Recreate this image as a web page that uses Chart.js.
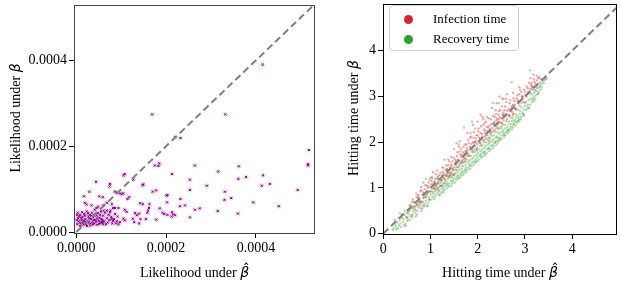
<!DOCTYPE html>
<html>
<head>
<meta charset="utf-8">
<script src="https://cdn.jsdelivr.net/npm/chart.js@4.4.1/dist/chart.umd.min.js"></script>
<style>
  html, body { margin: 0; padding: 0; background: #fff; }
  body { width: 621px; height: 288px; position: relative; overflow: hidden; }
  .panel { position: absolute; top: 0; height: 288px; }
  #leftBox { left: 0; width: 320px; }
  #rightBox { left: 320px; width: 301px; }
</style>
</head>
<body>
<div class="panel" id="leftBox"><canvas id="leftChart"></canvas></div>
<div class="panel" id="rightBox"><canvas id="rightChart"></canvas></div>
<script>
// ---- left panel: likelihoods, in units of 1e-4 ----
const likeScale = 1e-4;
const likelihoodPts = [
  [4.15,3.90],[1.69,2.74],[3.32,2.74],[2.20,2.21],[2.32,2.19],[5.18,1.91],[5.16,1.55],[5.16,1.58],
  [1.85,1.60],[1.75,1.55],[1.83,1.54],[2.64,1.55],[3.62,1.53],[3.16,1.41],[2.13,1.35],[4.16,1.32],
  [3.78,1.28],[1.05,1.32],[1.08,1.35],[1.27,1.22],[2.53,1.22],[3.61,1.24],[0.44,1.17],[0.75,1.12],
  [0.74,1.06],[1.48,1.09],[1.49,1.11],[4.31,1.12],[4.13,1.08],[2.91,1.08],[4.93,0.98],[2.53,0.98],
  [1.70,0.94],[1.78,0.97],[3.31,0.94],[2.03,0.86],[2.01,0.85],[3.45,0.79],[3.30,0.75],[2.32,0.77],
  [0.86,0.94],[0.90,0.92],[1.01,0.88],[0.97,0.90],[1.05,0.90],[1.18,0.81],[1.14,0.77],[3.94,0.69],
  [4.51,0.60],[2.02,0.69],[2.31,0.60],[2.42,0.62],[2.64,0.52],[2.75,0.55],[3.15,0.49],[3.60,0.43],
  [1.92,0.45],[2.13,0.46],[2.12,0.36],[2.20,0.39],[2.53,0.34],[1.86,0.55],[0.17,0.83],[0.29,0.94],
  [0.51,0.83],[0.59,0.81],[0.68,0.68],[0.79,0.65],[0.19,0.68],[0.23,0.64],[0.34,0.62],[0.45,0.56],
  [0.49,0.59],[0.60,0.62],[0.68,0.50],[0.75,0.46],[0.86,0.56],[0.94,0.56],[1.08,0.52],[1.12,0.47],
  [1.31,0.44],[1.35,0.39],[1.40,0.43],[1.48,0.65],[1.42,0.67],[1.63,0.65],[1.62,0.56],[1.60,0.50],
  [1.58,0.45],[1.43,0.30],[1.40,0.20],[1.55,0.30],[1.78,0.29],[1.96,0.42],[2.03,0.40],[2.16,0.41],
  [1.05,0.31],[1.08,0.27],[0.97,0.23],[1.26,0.31],[1.29,0.23],[0.79,0.31],[0.82,0.26],[0.88,0.20],
  [0.94,0.18],[0.57,0.23],[0.60,0.18],
  [0.02,0.18],[0.05,0.25],[0.04,0.32],[0.08,0.40],[0.03,0.45],[0.10,0.20],[0.12,0.28],[0.14,0.35],
  [0.15,0.22],[0.18,0.42],[0.20,0.30],[0.22,0.18],[0.23,0.48],[0.25,0.26],[0.27,0.36],[0.28,0.22],
  [0.30,0.40],[0.31,0.15],[0.33,0.30],[0.35,0.45],[0.36,0.24],[0.38,0.34],[0.40,0.20],[0.41,0.52],
  [0.43,0.28],[0.45,0.38],[0.46,0.17],[0.48,0.44],[0.50,0.26],[0.52,0.33],[0.54,0.21],[0.55,0.48],
  [0.58,0.28],[0.60,0.38],[0.62,0.25],[0.64,0.45],[0.66,0.18],[0.68,0.32],[0.70,0.22],[0.72,0.40],
  [0.06,0.36],[0.09,0.14],[0.13,0.46],[0.17,0.26],[0.19,0.38],[0.24,0.14],[0.26,0.44],[0.29,0.32],
  [0.32,0.20],[0.34,0.38],[0.37,0.18],[0.39,0.28],[0.42,0.42],[0.44,0.24],[0.47,0.32],[0.51,0.19],
  [0.53,0.40],[0.56,0.30],[0.59,0.23],[0.61,0.50],[0.01,0.28],[0.02,0.40],[0.07,0.22],[0.11,0.33],
  [0.16,0.17],[0.21,0.24],[0.74,0.28],[0.78,0.35],[0.80,0.20],[0.84,0.30],[0.86,0.42],[0.90,0.25],
  [0.92,0.36],[0.76,0.50],[0.82,0.56]
];
const likeTicks = [0, 0.0002, 0.0004];
const likeRangeX = [-0.0000051, 0.0005316];
const likeRangeY = [-0.0000023, 0.000529];
const likeDiag = [0, 0.00056];

// ---- right panel: hitting times ----
const infectionPts = [
  [0.47,0.17],[0.52,0.48],[0.58,0.62],[0.60,0.40],[0.63,0.75],[0.66,0.55],[0.70,0.88],[0.72,0.64],
  [0.75,0.78],[0.78,0.93],[0.80,0.70],[0.83,0.85],[0.85,0.62],[0.88,0.98],[0.90,0.80],[0.92,1.05],
  [0.95,0.90],[0.97,0.75],[1.00,1.02],[1.02,1.15],[1.04,0.92],[1.06,1.08],[1.08,0.98],[1.10,1.20],
  [1.12,1.05],[1.15,1.12],[1.17,0.96],[1.19,1.28],[1.22,1.18],[1.24,1.05],[1.26,1.35],[1.28,1.22],
  [1.30,1.10],[1.32,1.40],[1.35,1.30],[1.37,1.50],[1.39,1.25],[1.41,1.45],[1.43,1.35],[1.46,1.58],
  [1.48,1.42],[1.50,1.30],[1.52,1.62],[1.54,1.50],[1.56,1.70],[1.58,1.45],[1.60,1.60],[1.62,1.80],
  [1.64,1.55],[1.66,1.72],[1.68,1.62],[1.70,1.90],[1.72,1.75],[1.74,1.65],[1.76,1.95],[1.78,1.82],
  [1.80,2.05],[1.82,1.72],[1.84,1.90],[1.86,2.12],[1.88,1.85],[1.90,2.00],[1.92,2.22],[1.94,1.92],
  [1.96,2.08],[1.98,1.88],[2.00,2.15],[2.02,2.30],[2.04,2.00],[2.06,2.20],[2.08,1.95],[2.10,2.12],
  [2.12,2.38],[2.14,2.05],[2.16,2.25],[2.18,2.45],[2.20,2.15],[2.22,2.32],[2.24,2.10],[2.26,2.28],
  [2.28,2.50],[2.30,2.22],[2.32,2.40],[2.34,2.25],[2.36,2.55],[2.38,2.35],[2.40,2.48],[2.42,2.30],
  [2.44,2.60],[2.46,2.45],[2.48,2.70],[2.50,2.52],[2.52,2.42],[2.54,2.65],[2.56,2.55],[2.58,2.78],
  [2.60,2.62],[2.62,2.50],[2.65,2.72],[2.68,2.85],[2.70,2.68],[2.72,2.78],[2.75,2.62],[2.78,2.90],
  [2.80,2.75],[2.83,2.95],[2.86,2.85],[2.88,3.05],[2.91,2.92],[2.94,3.00],[2.97,2.88],[3.00,3.10],
  [3.03,3.00],[3.06,3.18],[3.10,3.08],[3.13,3.25],[3.17,3.15],[3.20,3.32],[3.24,3.22],[3.28,3.40],
  [3.32,3.30],
  [1.25,1.28],[1.45,1.48],[1.65,1.68],[1.85,1.88],[2.05,2.08],[2.25,2.22],[2.45,2.50],[2.65,2.60],
  [2.85,2.90],[3.05,3.05],[0.95,1.00],[0.75,0.70],[1.55,1.55],[1.75,1.80],[1.95,2.00],[2.15,2.12],
  [2.35,2.38],[2.55,2.58],[2.75,2.80],[2.95,2.95],[3.15,3.18],[1.15,1.20],[1.35,1.38],[0.85,0.90],
  [0.65,0.68],
  [2.46,3.00],[2.52,2.95],[2.40,2.85],[2.10,2.55],[1.90,2.38],[1.55,1.98],[1.30,1.62],[1.05,1.35],
  [2.30,2.75],[2.62,3.05],[2.75,3.08],[3.12,3.40],[3.25,3.45],[0.85,1.12],[1.62,2.02],[1.78,2.20],
  [2.00,2.45],
  [0.55,0.52],[0.61,0.70],[0.68,0.60],[0.71,0.79],[0.77,0.66],[0.81,0.95],[0.86,0.79],[0.89,1.06],
  [0.93,0.88],[0.96,1.12],[0.99,0.93],[1.01,1.08],[1.03,1.24],[1.07,1.01],[1.09,1.14],[1.11,1.30],
  [1.13,0.99],[1.16,1.25],[1.18,1.10],[1.21,1.33],[1.23,1.16],[1.27,1.44],[1.29,1.31],[1.31,1.18],
  [1.33,1.49],[1.34,1.27],[1.36,1.40],[1.38,1.33],[1.40,1.58],[1.42,1.29],[1.44,1.52],[1.47,1.40],
  [1.49,1.66],[1.51,1.45],[1.53,1.57],[1.55,1.39],[1.57,1.78],[1.59,1.62],[1.61,1.52],[1.63,1.73],
  [1.65,1.86],[1.67,1.59],[1.69,1.78],[1.71,1.66],[1.73,1.95],[1.75,1.72],[1.77,1.87],[1.79,1.70],
  [1.81,1.98],[1.83,1.83],[1.85,2.20],[1.87,1.96],[1.89,1.80],[1.91,2.10],[1.93,1.99],[1.95,2.30],
  [1.97,2.15],[1.99,1.96],[2.01,2.24],[2.03,2.10],[2.05,1.98],[2.07,2.35],[2.09,2.18],[2.11,2.04],
  [2.13,2.28],[2.15,2.42],[2.17,2.16],[2.19,2.34],[2.21,2.24],[2.23,2.52],[2.25,2.36],[2.27,2.18],
  [2.29,2.40],[2.31,2.31],[2.33,2.58],[2.35,2.44],[2.37,2.28],[2.39,2.62],[2.41,2.52],[2.43,2.40],
  [2.45,2.68],[2.47,2.55],[2.49,2.42],[2.51,2.78],[2.53,2.60],[2.55,2.48],[2.57,2.70],[2.59,2.58],
  [2.61,2.88],[2.63,2.68],[2.66,2.58],[2.69,2.92],[2.71,2.74],[2.73,2.66],[2.76,2.96],[2.79,2.82],
  [2.81,2.72],[2.84,3.02],[2.87,2.90],[2.89,2.80],[2.92,3.10],[2.95,2.98],[2.98,3.15],[3.01,3.02],
  [3.04,3.22],[3.07,3.10],[3.09,3.30],[3.11,3.16],[3.14,3.30],[3.16,3.22],[3.19,3.38],[3.22,3.28],
  [3.26,3.35],[3.30,3.42],[3.34,3.38],
  [0.50,0.36],[0.73,0.83],[0.98,1.18],[1.14,1.38],[1.22,1.04],[1.38,1.62],[1.47,1.28],[1.60,1.90],
  [1.73,1.58],[1.84,2.10],[1.98,1.82],[2.12,2.50],[2.24,2.02],[2.38,2.70],[2.50,2.34],[2.60,2.95],
  [2.74,2.58],[2.88,3.20],[3.00,2.86],[3.18,3.48],[0.80,1.02],[1.44,1.68],[2.06,2.60],[2.32,2.86]
];
const recoveryPts = [
  [0.20,0.08],[0.22,0.12],[0.25,0.20],[0.28,0.10],[0.30,0.25],[0.33,0.18],[0.35,0.30],[0.38,0.15],
  [0.40,0.35],[0.42,0.26],[0.45,0.40],[0.47,0.22],[0.50,0.45],[0.52,0.32],[0.55,0.50],[0.57,0.38],
  [0.60,0.55],[0.62,0.42],[0.65,0.60],[0.67,0.46],[0.70,0.65],[0.72,0.50],[0.75,0.58],[0.77,0.72],
  [0.80,0.55],[0.82,0.68],[0.85,0.78],[0.87,0.60],[0.90,0.72],[0.92,0.85],[0.95,0.68],[0.97,0.80],
  [1.00,0.92],[1.02,0.75],[1.04,1.20],[1.06,0.88],[1.08,1.00],[1.10,0.82],[1.12,0.95],[1.14,1.08],
  [1.16,0.90],[1.18,1.02],[1.20,0.86],[1.22,1.12],[1.24,0.98],[1.26,1.08],[1.28,0.94],[1.30,1.20],
  [1.32,1.05],[1.34,1.15],[1.36,1.00],[1.38,1.25],[1.40,1.10],[1.42,1.22],[1.44,1.05],[1.46,1.32],
  [1.48,1.18],[1.50,1.28],[1.52,1.12],[1.54,1.40],[1.56,1.25],[1.58,1.35],[1.60,1.20],[1.62,1.48],
  [1.64,1.30],[1.66,1.42],[1.68,1.28],[1.70,1.55],[1.72,1.38],[1.74,1.50],[1.76,1.35],[1.78,1.62],
  [1.80,1.45],[1.82,1.58],[1.84,1.42],[1.86,1.70],[1.88,1.55],[1.90,1.65],[1.92,1.50],[1.94,1.78],
  [1.96,1.62],[1.98,1.72],[2.00,1.58],[2.02,1.85],[2.04,1.70],[2.06,1.80],[2.08,1.66],[2.10,1.92],
  [2.12,1.78],[2.14,1.88],[2.16,1.72],[2.18,2.00],[2.20,1.85],[2.22,1.95],[2.24,1.80],[2.26,2.08],
  [2.28,1.92],[2.30,2.02],[2.32,1.88],[2.34,2.15],[2.36,2.00],[2.38,2.10],[2.40,1.95],[2.42,2.22],
  [2.44,2.08],[2.46,2.18],[2.48,2.05],[2.50,2.30],[2.52,2.15],[2.54,2.25],[2.56,2.12],[2.58,2.38],
  [2.60,2.22],[2.62,2.32],[2.64,2.20],[2.66,2.45],[2.68,2.30],[2.70,2.40],[2.72,2.28],[2.74,2.52],
  [2.76,2.38],[2.78,2.48],[2.80,2.36],[2.82,2.60],[2.84,2.46],[2.86,2.56],[2.88,2.45],[2.90,2.68],
  [2.92,2.55],[2.95,2.65],[2.98,2.58],[3.00,2.80],[3.03,2.70],[3.06,2.82],[3.09,2.75],[3.12,2.95],
  [3.15,2.88],[3.18,3.00],[3.21,2.95],[3.24,3.12],[3.27,3.05],[3.30,3.20],[3.33,3.15],[3.36,3.28],
  [3.40,3.30],[3.44,3.38],
  [0.35,0.45],[0.55,0.62],[0.75,0.85],[0.95,1.05],[1.15,1.22],[1.35,1.42],[1.55,1.60],[1.75,1.80],
  [1.95,2.02],[2.15,2.20],[2.35,2.42],[2.55,2.60],[2.75,2.82],[2.95,3.00],[3.15,3.22],[1.71,2.32],
  [1.88,2.45],[2.72,3.31],[3.11,3.57],[2.55,2.95],[2.90,3.15],[1.50,1.85],[1.25,1.45],[2.20,2.55],
  [0.90,1.20],[1.00,1.22],[1.60,1.95],[2.45,2.85],
  [0.24,0.30],[0.27,0.16],[0.32,0.35],[0.36,0.22],[0.39,0.42],[0.43,0.32],[0.46,0.50],[0.49,0.36],
  [0.51,0.28],[0.54,0.44],[0.58,0.56],[0.61,0.36],[0.63,0.50],[0.66,0.70],[0.68,0.52],[0.71,0.42],
  [0.73,0.62],[0.76,0.78],[0.79,0.62],[0.81,0.50],[0.84,0.70],[0.86,0.88],[0.88,0.66],[0.91,0.80],
  [0.93,0.62],[0.96,0.92],[0.98,0.74],[1.01,0.86],[1.03,0.98],[1.05,0.80],[1.07,1.12],[1.09,0.92],
  [1.11,1.05],[1.13,0.86],[1.15,1.00],[1.17,1.15],[1.19,0.94],[1.21,1.05],[1.23,0.90],[1.25,1.18],
  [1.27,1.02],[1.29,1.12],[1.31,0.98],[1.33,1.26],[1.35,1.10],[1.37,1.20],[1.39,1.04],[1.41,1.32],
  [1.43,1.16],[1.45,1.24],[1.47,1.10],[1.49,1.38],[1.51,1.22],[1.53,1.32],[1.55,1.18],[1.57,1.46],
  [1.59,1.28],[1.61,1.40],[1.63,1.24],[1.65,1.55],[1.67,1.36],[1.69,1.48],[1.71,1.32],[1.73,1.62],
  [1.75,1.44],[1.77,1.56],[1.79,1.40],[1.81,1.70],[1.83,1.52],[1.85,1.62],[1.87,1.48],[1.89,1.78],
  [1.91,1.58],[1.93,1.70],[1.95,1.55],[1.97,1.84],[1.99,1.66],[2.01,1.76],[2.03,1.62],[2.05,1.92],
  [2.07,1.74],[2.09,1.84],[2.11,1.70],[2.13,2.00],[2.15,1.80],[2.17,1.92],[2.19,1.76],[2.21,2.06],
  [2.23,1.88],[2.25,1.98],[2.27,1.84],[2.29,2.14],[2.31,1.94],[2.33,2.06],[2.35,1.92],[2.37,2.22],
  [2.39,2.02],[2.41,2.12],[2.43,2.00],[2.45,2.30],[2.47,2.10],[2.49,2.22],[2.51,2.08],[2.53,2.38],
  [2.55,2.20],[2.57,2.30],[2.59,2.16],[2.61,2.46],[2.63,2.26],[2.65,2.38],[2.67,2.25],[2.69,2.54],
  [2.71,2.34],[2.73,2.46],[2.75,2.32],[2.77,2.62],[2.79,2.44],[2.81,2.54],[2.83,2.42],[2.85,2.70],
  [2.87,2.52],[2.89,2.62],[2.91,2.50],[2.93,2.76],[2.96,2.60],[2.99,2.72],[3.02,2.88],[3.05,2.76],
  [3.08,2.92],[3.11,2.82],[3.14,3.05],[3.17,2.94],[3.20,3.08],[3.23,3.02],[3.26,3.18],[3.29,3.10],
  [3.32,3.24],[3.35,3.20],[3.38,3.34],[3.42,3.36],[3.46,3.40],
  [0.31,0.12],[0.44,0.19],[0.56,0.30],[0.69,0.38],[0.83,0.56],[0.94,0.60],[1.08,0.76],[1.19,0.84],
  [1.27,0.90],[1.36,1.07],[1.46,1.14],[1.58,1.22],[1.66,1.34],[1.74,1.40],[1.83,1.49],[1.96,1.58],
  [2.06,1.70],[2.14,1.76],[2.24,1.86],[2.36,1.98],[2.44,2.04],[2.56,2.16],[2.64,2.26],[2.76,2.40],
  [2.86,2.48],[2.97,2.62],[3.07,2.74],[3.19,2.90],[3.28,3.06],[0.63,0.58],[0.88,0.84],[1.12,1.10],
  [1.41,1.27],[1.68,1.56],[1.92,1.84],[2.18,2.08],[2.42,2.34],[2.68,2.58],[2.93,2.86],[3.21,3.14],
  [0.79,0.70],[1.31,1.28],[1.79,1.76],[2.27,2.24],[2.79,2.72]
];
const timeTicks = [0, 1, 2, 3, 4];
const timeRangeX = [-0.005, 4.95];
const timeRangeY = [-0.006, 5.02];
const timeDiag = [0, 5.5];

const legendLabels = ['Infection time', 'Recovery time'];
const legendColors = ['#d62728', '#2ca02c'];

const leftXTitle = 'Likelihood under';
const leftYTitle = 'Likelihood under';
const rightXTitle = 'Hitting time under';
const rightYTitle = 'Hitting time under';

const serif = '"Liberation Serif", "Times New Roman", serif';

function toXY(pts, k) {
  return pts.map(p => ({ x: p[0] * k, y: p[1] * k }));
}

function drawTitle(ctx, text, cx, base, vertical, withHat) {
  ctx.save();
  ctx.fillStyle = '#000';
  ctx.textBaseline = 'alphabetic';
  ctx.textAlign = 'left';
  ctx.font = '14px ' + serif;
  const w1 = ctx.measureText(text + ' ').width;
  ctx.font = 'oblique 14px "DejaVu Sans"';
  const w2 = ctx.measureText('β').width;
  const total = w1 + w2;
  if (vertical) {
    ctx.translate(base, cx);
    ctx.rotate(-Math.PI / 2);
  } else {
    ctx.translate(cx, base);
  }
  const x0 = -total / 2;
  ctx.font = '14px ' + serif;
  ctx.fillText(text + ' ', x0, 0);
  ctx.font = 'oblique 14px "DejaVu Sans"';
  ctx.fillText('β', x0 + w1, 0);
  if (withHat) {
    ctx.font = '14px "DejaVu Sans"';
    ctx.textAlign = 'center';
    ctx.fillText('ˆ', x0 + w1 + w2 / 2 + 1.5, -3);
  }
  ctx.restore();
}

function framePlugin(color) {
  return {
    id: 'frame',
    afterDatasetsDraw(chart) {
      const a = chart.chartArea;
      const ctx = chart.ctx;
      ctx.save();
      ctx.strokeStyle = color;
      ctx.lineWidth = 1;
      const l = Math.round(a.left) + 0.5, t = Math.round(a.top) + 0.5;
      const r = Math.min(Math.round(a.right) - 0.5, chart.width - 0.5);
      const b = Math.round(a.bottom) + 0.5;
      ctx.strokeRect(l, t, r - l, b - t);
      ctx.restore();
    }
  };
}

function axisScale(range, ticks, fmt, horizontal, size) {
  return {
    type: 'linear',
    min: range[0],
    max: range[1],
    afterBuildTicks: s => { s.ticks = ticks.map(v => ({ value: v })); },
    afterFit: s => {
      if (horizontal) { s.height = size; s.paddingLeft = 0; s.paddingRight = 0; }
      else { s.width = size; s.paddingTop = 0; s.paddingBottom = 0; }
    },
    ticks: {
      callback: fmt,
      color: '#000',
      font: { family: serif, size: 14 },
      padding: 2,
      maxRotation: 0,
      autoSkip: false
    },
    grid: { drawOnChartArea: false, tickLength: 5, color: '#000', tickWidth: 1 },
    border: { display: false },
    title: { display: false }
  };
}

const baseOpts = {
  responsive: true,
  maintainAspectRatio: false,
  animation: false,
  events: [],
  plugins: { legend: { display: false }, tooltip: { enabled: false } }
};

// ---- left chart ----
const likeData = toXY(likelihoodPts, likeScale);
new Chart(document.getElementById('leftChart'), {
  type: 'scatter',
  data: {
    datasets: [
      {
        type: 'line',
        data: likeDiag.map(v => ({ x: v, y: v })),
        borderColor: '#7f7f7f',
        borderWidth: 2,
        borderDash: [7, 4],
        pointRadius: 0,
        order: 0
      },
      {
        data: likeData,
        pointStyle: 'crossRot',
        radius: 1.4,
        borderColor: '#800080',
        borderWidth: 1,
        order: 1
      },
      {
        data: likeData,
        pointStyle: 'star',
        radius: 2.8,
        borderColor: 'rgba(214,130,218,0.4)',
        borderWidth: 1,
        order: 2
      }
    ]
  },
  options: Object.assign({}, baseOpts, {
    layout: { padding: { top: 0, left: 0, right: 5, bottom: 0 } },
    scales: {
      x: axisScale(likeRangeX, likeTicks, v => v.toFixed(4), true, 55),
      y: axisScale(likeRangeY, likeTicks, v => v.toFixed(4), false, 74)
    }
  }),
  plugins: [framePlugin('#444'), {
    id: 'titles',
    afterDraw(chart) {
      const a = chart.chartArea;
      drawTitle(chart.ctx, leftXTitle, (a.left + a.right) / 2, 277, false, true);
      drawTitle(chart.ctx, leftYTitle, 118, 20, true, false);
    }
  }]
});

// ---- right chart ----
new Chart(document.getElementById('rightChart'), {
  type: 'scatter',
  data: {
    datasets: [
      {
        type: 'line',
        data: timeDiag.map(v => ({ x: v, y: v })),
        borderColor: '#7f7f7f',
        borderWidth: 2,
        borderDash: [7, 4],
        pointRadius: 0,
        order: 0
      },
      {
        label: legendLabels[0],
        data: toXY(infectionPts, 1),
        radius: 1.2,
        borderWidth: 0,
        backgroundColor: 'rgba(214,39,40,0.4)',
        order: 1
      },
      {
        label: legendLabels[1],
        data: toXY(recoveryPts, 1),
        radius: 1.2,
        borderWidth: 0,
        backgroundColor: 'rgba(44,160,44,0.4)',
        order: 2
      }
    ]
  },
  options: Object.assign({}, baseOpts, {
    layout: { padding: 0 },
    scales: {
      x: axisScale(timeRangeX, timeTicks, v => String(v), true, 54),
      y: axisScale(timeRangeY, timeTicks, v => String(v), false, 63)
    }
  }),
  plugins: [framePlugin('#000'), {
    id: 'titlesLegend',
    afterDraw(chart) {
      const a = chart.chartArea;
      const ctx = chart.ctx;
      drawTitle(ctx, rightXTitle, (a.left + a.right) / 2, 277, false, true);
      drawTitle(ctx, rightYTitle, 118, 38, true, false);
      // legend box
      ctx.save();
      const bx = 69.5, by = 5.5, bw = 129, bh = 45, rr = 3;
      ctx.beginPath();
      ctx.roundRect(bx, by, bw, bh, rr);
      ctx.fillStyle = 'rgba(255,255,255,0.8)';
      ctx.fill();
      ctx.strokeStyle = '#d0d0d0';
      ctx.lineWidth = 1;
      ctx.stroke();
      ctx.font = '13px ' + serif;
      ctx.textBaseline = 'middle';
      ctx.textAlign = 'left';
      legendLabels.forEach((lab, i) => {
        const cy = 19.5 + i * 20;
        ctx.beginPath();
        ctx.arc(88.5, cy, 4.5, 0, Math.PI * 2);
        ctx.fillStyle = legendColors[i];
        ctx.fill();
        ctx.fillStyle = '#000';
        ctx.fillText(lab, 113, cy);
      });
      ctx.restore();
    }
  }]
});
</script>
</body>
</html>
